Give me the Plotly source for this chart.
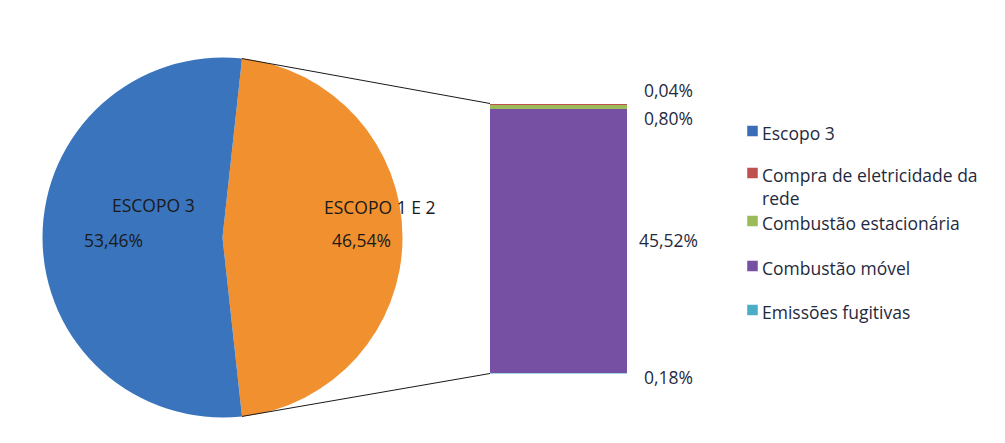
import math
import plotly.graph_objects as go

# ---- data ----------------------------------------------------------------
pie_labels = ["ESCOPO 3", "ESCOPO 1 E 2"]
pie_values = [53.46, 46.54]

# breakdown of "ESCOPO 1 E 2", listed top to bottom of the stacked column
bar_labels = ["Compra de eletricidade da rede", "Combustão estacionária",
              "Combustão móvel", "Emissões fugitivas"]
bar_values = [0.04, 0.80, 45.52, 0.18]

legend_labels = ["Escopo 3", "Compra de eletricidade da<br>rede",
                 "Combustão estacionária", "Combustão móvel", "Emissões fugitivas"]

# ---- styling -------------------------------------------------------------
W, H = 1005, 443
FONT = "Open Sans"
TXT = "#1f2a40"
pie_colors = ["#3a74bc", "#f0902f"]
bar_colors = ["#c0504d", "#9bbb59", "#7650a3", "#4bacc6"]
legend_colors = ["#3a6db5", "#c0504d", "#9bbb59", "#7650a3", "#4bacc6"]
FS = 17.5


def fx(px):
    return px / W


def fy(py):
    return 1 - py / H


def pct(v):
    return f"{v:.2f}".replace(".", ",") + "%"


# pie geometry (pixels)
cx, cy, r = 222.5, 237.5, 180.0
# column geometry (pixels)
bx0, bx1, by_top, by_bot = 490.0, 627.0, 103.5, 373.5

fig = go.Figure()

# orange slice centred on 3 o'clock
frac = pie_values[1] / sum(pie_values)
start_deg = 90 - frac * 180

fig.add_trace(go.Pie(
    labels=pie_labels[::-1], values=pie_values[::-1],
    sort=False, direction="clockwise", rotation=start_deg,
    marker=dict(colors=pie_colors[::-1], line=dict(width=0)),
    textinfo="none", hoverinfo="label+percent", showlegend=False,
    domain=dict(x=[fx(cx - r), fx(cx + r)], y=[fy(cy + r), fy(cy - r)]),
))

# stacked column, bottom segment first
for lab, val, col in list(zip(bar_labels, bar_values, bar_colors))[::-1]:
    fig.add_trace(go.Bar(
        x=[0], y=[val], name=lab, width=1, marker=dict(color=col, line=dict(width=0)),
        showlegend=False, xaxis="x", yaxis="y",
    ))

total = sum(bar_values)

annotations = []
shapes = []

# pie labels
pie_label_pos = [((110, 205), (82, 240)), ((322, 207), (361, 240))]
for lab, val, (npos, vpos) in zip(pie_labels, pie_values, pie_label_pos):
    annotations.append(dict(text=lab, x=fx(npos[0]), y=fy(npos[1]), xref="paper", yref="paper",
                            showarrow=False, font=dict(family=FONT, size=FS, color="#1a1a1a")))
    annotations.append(dict(text=pct(val), x=fx(vpos[0]), y=fy(vpos[1]), xref="paper", yref="paper",
                            showarrow=False, font=dict(family=FONT, size=FS, color="#1a1a1a")))

# column value labels, placed beside each segment's centre
shifts = {0: 14, 1: -12, 2: 0, 3: -4}
bottom = total
for i, val in enumerate(bar_values):
    top = bottom
    bottom = top - val
    mid = (top + bottom) / 2
    annotations.append(dict(text=pct(val), x=0.5, y=mid, xref="x", yref="y", xanchor="center",
                            xshift=41, yshift=shifts[i], showarrow=False,
                            font=dict(family=FONT, size=FS, color=TXT)))

# connector lines from the orange slice edges to the column corners
ang = math.radians(start_deg)
p_top = (cx + r * math.sin(ang), cy - r * math.cos(ang))
p_bot = (cx + r * math.sin(ang), cy + r * math.cos(ang))
for (px0, py0), (px1, py1) in [(p_top, (bx0, by_top)), (p_bot, (bx0, by_bot))]:
    shapes.append(dict(type="line", xref="paper", yref="paper",
                       x0=fx(px0), y0=fy(py0), x1=fx(px1), y1=fy(py1),
                       line=dict(color="#1a1a1a", width=1)))

# legend
leg_y = [131, 173, 221, 266, 310]
for lab, col, yy in zip(legend_labels, legend_colors, leg_y):
    shapes.append(dict(type="rect", xref="paper", yref="paper",
                       x0=fx(747), x1=fx(758), y0=fy(yy + 5.5), y1=fy(yy - 5.5),
                       fillcolor=col, line=dict(color="#ffffff", width=0.5)))
    annotations.append(dict(text=lab, x=fx(760), y=fy(yy - 12.5), xref="paper", yref="paper",
                            xanchor="left", yanchor="top", align="left", showarrow=False,
                            font=dict(family=FONT, size=FS, color=TXT)))

fig.update_layout(
    width=W, height=H, margin=dict(l=0, r=0, t=0, b=0),
    paper_bgcolor="white", plot_bgcolor="white",
    barmode="stack", bargap=0,
    xaxis=dict(domain=[fx(bx0), fx(bx1)], range=[-0.5, 0.5], visible=False, fixedrange=True),
    yaxis=dict(domain=[fy(by_bot), fy(by_top)], range=[0, total], visible=False, fixedrange=True),
    annotations=annotations, shapes=shapes,
)

fig.write_html("out.html")
